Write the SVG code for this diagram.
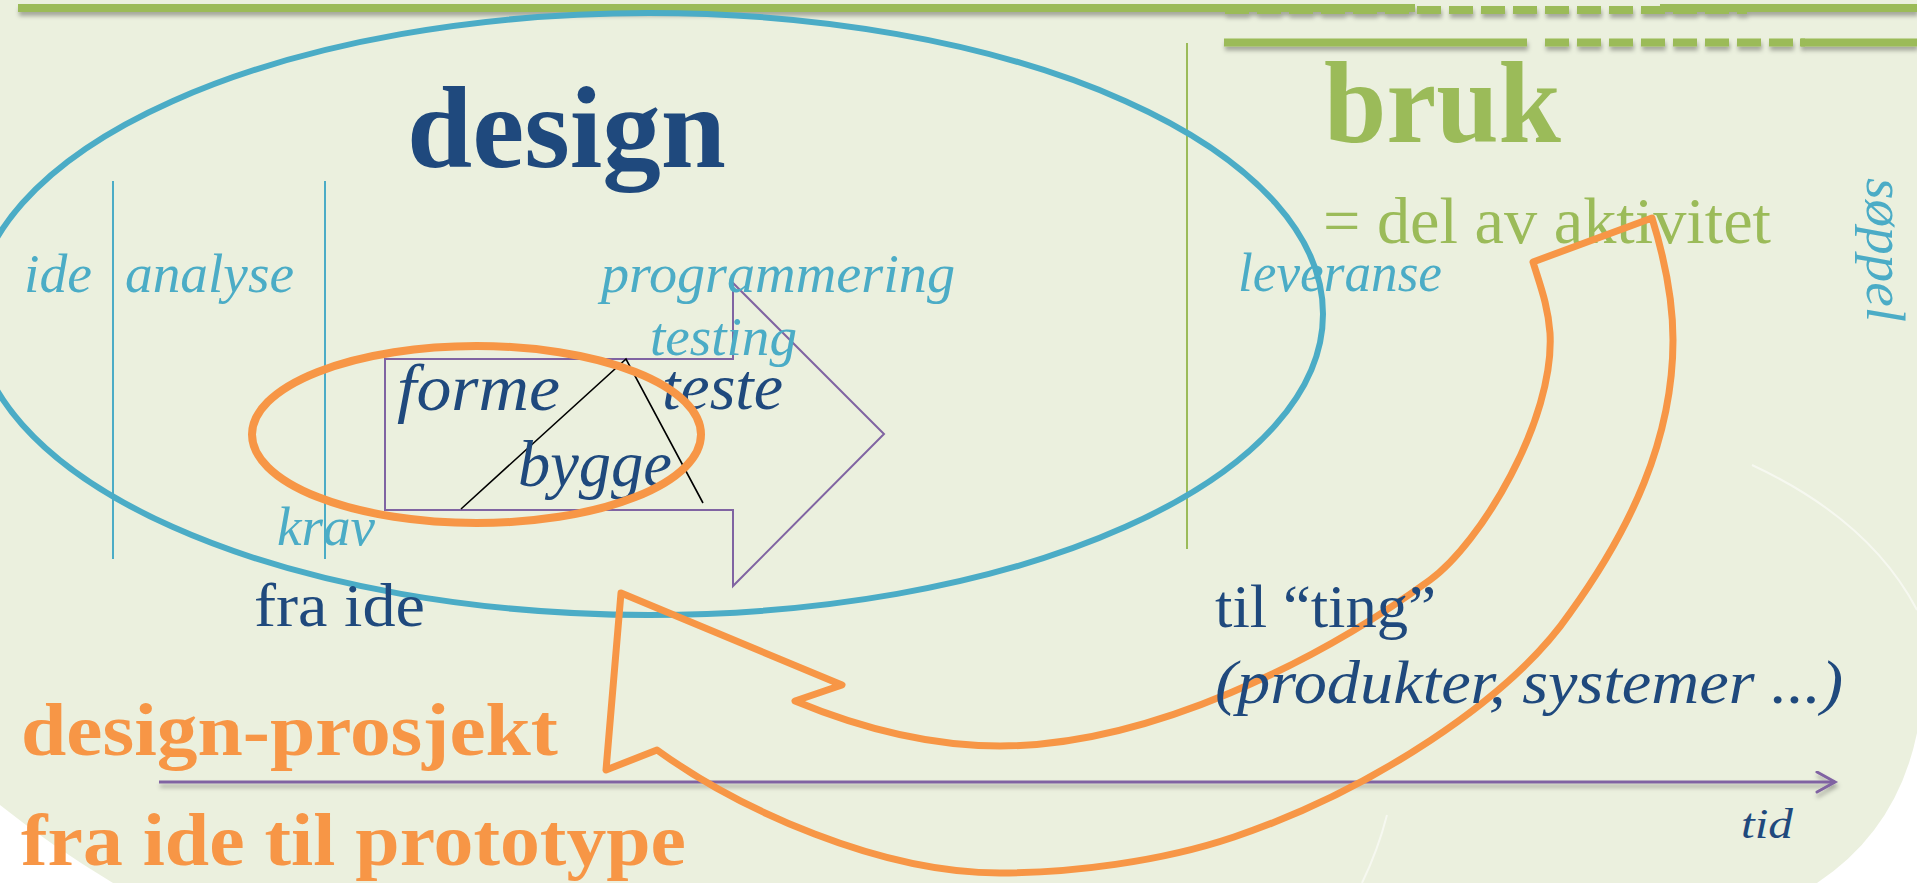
<svg xmlns="http://www.w3.org/2000/svg" width="1917" height="883" viewBox="0 0 1917 883">
<style>
.serif{font-family:"Liberation Serif","DejaVu Serif",serif}
.it{font-style:italic}
.bold{font-weight:bold}
.dblue{fill:#1F497D}
.lblue{fill:#4BACC6}
.green{fill:#9BBB59}
.orange{fill:#F79646}
.gline{stroke:#9BBB59;stroke-width:8;fill:none}
.vblue{stroke:#4BACC6;stroke-width:2}
.faint{stroke:#FFFFFF;stroke-opacity:0.55;stroke-width:2;fill:none}
</style>
<defs>
<filter id="sh" filterUnits="userSpaceOnUse" x="0" y="0" width="1917" height="883">
<feDropShadow dx="1" dy="4" stdDeviation="2" flood-color="#000" flood-opacity="0.3"/>
</filter>
<marker id="chev" markerUnits="userSpaceOnUse" markerWidth="26" markerHeight="26" refX="20" refY="11" orient="auto">
<path d="M2,1 L20,11 L2,21" fill="none" stroke="#8064A2" stroke-width="3" stroke-linecap="round"/>
</marker>
</defs>

<g id="background">
<rect x="0" y="0" width="1917" height="883" fill="#FFFFFF"/>
<path d="M0,0 H1917 V733 Q1897,830 1817,883 H113 Q50,845 0,805 Z" fill="#EBF0DE"/>
<path class="faint" d="M1752,465 Q1870,520 1917,610"/>
<path class="faint" d="M1387,815 Q1378,850 1362,883"/>
</g>

<g id="header-lines" filter="url(#sh)">
<line class="gline" x1="1225" y1="10" x2="1747" y2="10" stroke-dasharray="24 8"/>
<line class="gline" x1="18" y1="8" x2="1415" y2="8"/>
<line class="gline" x1="1660" y1="8" x2="1917" y2="8"/>
<line class="gline" x1="1224" y1="42.5" x2="1527" y2="42.5"/>
<line class="gline" x1="1545" y1="42.5" x2="1805" y2="42.5" stroke-dasharray="24 8"/>
<line class="gline" x1="1800" y1="42.5" x2="1917" y2="42.5"/>
</g>

<g id="phase-dividers">
<line class="vblue" x1="113" y1="181" x2="113" y2="559"/>
<line class="vblue" x1="325" y1="181" x2="325" y2="559"/>
<line x1="1187" y1="43" x2="1187" y2="549" stroke="#9BBB59" stroke-width="2"/>
</g>

<g id="design-ellipse">
<ellipse cx="649" cy="314" rx="674" ry="301" fill="none" stroke="#4BACC6" stroke-width="6"/>
</g>

<g id="process-arrow">
<polygon points="385,359 733,359 733,283 884,434 733,586 733,510 385,510" fill="none" stroke="#8064A2" stroke-width="2"/>
<polyline points="461,509 626,359 703,503" fill="none" stroke="#000000" stroke-width="1.6"/>
</g>

<g id="title-design">
<text class="serif bold dblue" x="407" y="167" font-size="116" textLength="319" lengthAdjust="spacingAndGlyphs">design</text>
</g>
<g id="title-bruk">
<text class="serif bold green" x="1324" y="142" font-size="116" textLength="237" lengthAdjust="spacingAndGlyphs">bruk</text>
</g>
<g id="bruk-sub">
<text class="serif green" x="1323" y="243" font-size="65" textLength="448" lengthAdjust="spacingAndGlyphs">= del av aktivitet</text>
</g>

<g id="phase-labels" class="serif it lblue" font-size="55">
<text x="24" y="292" textLength="68" lengthAdjust="spacingAndGlyphs">ide</text>
<text x="125" y="292" textLength="169" lengthAdjust="spacingAndGlyphs">analyse</text>
<text x="601" y="292" textLength="354" lengthAdjust="spacingAndGlyphs">programmering</text>
<text x="650" y="355" textLength="147" lengthAdjust="spacingAndGlyphs">testing</text>
<text x="277" y="545" textLength="98" lengthAdjust="spacingAndGlyphs">krav</text>
<text x="1238" y="291" textLength="204" lengthAdjust="spacingAndGlyphs">leveranse</text>
<text transform="translate(1867,178) rotate(90)" textLength="144" lengthAdjust="spacingAndGlyphs">søppel</text>
</g>

<g id="activity-labels" class="serif it dblue" font-size="66">
<text x="397" y="410" textLength="163" lengthAdjust="spacingAndGlyphs">forme</text>
<text x="662" y="409" textLength="121" lengthAdjust="spacingAndGlyphs">teste</text>
<text x="518" y="486" textLength="154" lengthAdjust="spacingAndGlyphs">bygge</text>
</g>

<g id="iteration-ellipse">
<ellipse cx="476.5" cy="434.5" rx="224.5" ry="88.5" fill="none" stroke="#F79646" stroke-width="8"/>
</g>

<g id="connectors">
<g filter="url(#sh)">
<line x1="159" y1="782" x2="1835" y2="782" stroke="#8064A2" stroke-width="3" marker-end="url(#chev)"/>
</g>
<path d="M621,593 L842,685 L795,701 C860,728 930,746 1000,746 C1150,746 1320,660 1430,580 C1480,544 1555,420 1550,333 C1548,305 1540,285 1533,262 L1652,218 C1665,260 1673,300 1673,340 C1673,440 1630,530 1570,613 C1510,700 1370,791 1234,837 C1160,862 1070,873 1000,873 C880,873 740,810 657,750 L606,770 Z" fill="none" stroke="#F79646" stroke-width="7" stroke-linejoin="round"/>
</g>

<g id="from-to-labels" class="serif dblue" font-size="62">
<text x="254" y="626" textLength="171" lengthAdjust="spacingAndGlyphs">fra ide</text>
<text x="1215" y="627" textLength="221" lengthAdjust="spacingAndGlyphs">til “ting”</text>
<text class="it" x="1215" y="703" textLength="628" lengthAdjust="spacingAndGlyphs">(produkter, systemer ...)</text>
<text class="it" x="1741" y="838" font-size="42" textLength="52" lengthAdjust="spacingAndGlyphs">tid</text>
</g>

<g id="project-title" class="serif bold orange" font-size="75">
<text x="21" y="755" textLength="537" lengthAdjust="spacingAndGlyphs">design-prosjekt</text>
<text x="21" y="865" textLength="665" lengthAdjust="spacingAndGlyphs">fra ide til prototype</text>
</g>
</svg>
